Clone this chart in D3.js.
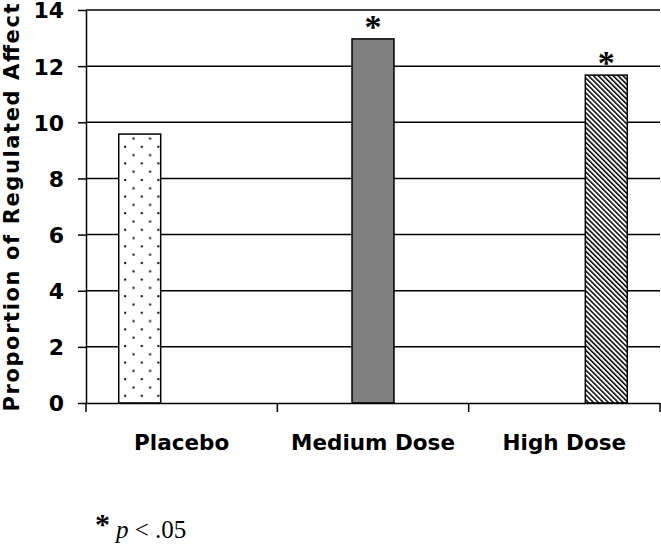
<!DOCTYPE html>
<html>
<head>
<meta charset="utf-8">
<script src="https://cdn.jsdelivr.net/npm/d3@7"></script>
<style>
  body { margin: 0; background: white; }
  text { font-family: "DejaVu Sans", Verdana, sans-serif; font-weight: bold; }
</style>
</head>
<body>
<svg id="chart" width="661" height="544"></svg>
<script>

// data
let categories = ["Placebo", "Medium Dose", "High Dose"];
let values = [9.58, 12.97, 11.68];
let significant = [false, true, true];
let fills = ["url(#dots)", "#808080", "url(#hatch)"];
let yTicks = [0, 2, 4, 6, 8, 10, 12, 14];

function makeChart(id) {

    let width = 661;
    let height = 544;
    let margins = {top: 10, right: 1, bottom: 141, left: 86};
    let innerWidth = width - margins.left - margins.right;
    let innerHeight = height - margins.top - margins.bottom;

    let chart = d3.select("#" + id);

    // fill patterns
    let defs = chart.append("defs");
    let dots = defs.append("pattern").attr("id", "dots")
        .attr("patternUnits", "userSpaceOnUse")
        .attr("width", 16.6).attr("height", 16.6);
    dots.append("rect").attr("width", 16.6).attr("height", 16.6).style("fill", "white");
    dots.append("rect").attr("x", 5).attr("y", 3).attr("width", 2).attr("height", 2).style("fill", "black");
    dots.append("rect").attr("x", 13.3).attr("y", 11.3).attr("width", 2).attr("height", 2).style("fill", "black");

    let hatch = defs.append("pattern").attr("id", "hatch")
        .attr("patternUnits", "userSpaceOnUse")
        .attr("width", 3.5).attr("height", 3.5)
        .attr("patternTransform", "rotate(-45)");
    hatch.append("rect").attr("width", 3.5).attr("height", 3.5).style("fill", "white");
    hatch.append("rect").attr("x", 0).attr("y", 0).attr("width", 1.5).attr("height", 3.5).style("fill", "black");

    let g = chart.append("g")
        .attr("transform", `translate(${margins.left},${margins.top})`);

    let xScale = d3.scaleBand().domain(categories).range([0, innerWidth]).padding(0);
    let xInner = d3.scaleBand().domain(categories).range([0, xScale.bandwidth()])
        .paddingInner(0).paddingOuter(0.78);
    let yScale = d3.scaleLinear().domain([0, 14]).range([innerHeight, 0]);

    // gridlines
    g.append("g").selectAll("line").data(yTicks.filter(d => d > 0)).enter().append("line")
        .attr("x1", 0).attr("x2", innerWidth)
        .attr("y1", d => yScale(d)).attr("y2", d => yScale(d))
        .style("stroke", "black").style("stroke-width", 1.5);

    // y axis
    let yAxis = g.append("g")
        .call(d3.axisLeft(yScale).tickValues(yTicks).tickSize(8).tickPadding(14).tickSizeOuter(0));
    yAxis.select(".domain").style("stroke-width", 1.5);
    yAxis.selectAll(".tick line").style("stroke-width", 1.5);
    yAxis.selectAll("text").style("font-size", "22px").style("font-family", "DejaVu Sans")
        .style("font-weight", "bold").attr("dy", "0.36em");

    // bars
    g.selectAll(".bar").data(values).enter().append("rect").attr("class", "bar")
        .attr("x", (d, i) => xScale(categories[i]) + xInner(categories[i]))
        .attr("y", d => yScale(d))
        .attr("width", xInner.bandwidth())
        .attr("height", d => innerHeight - yScale(d))
        .style("fill", (d, i) => fills[i])
        .style("stroke", "black").style("stroke-width", 1.5);

    // significance stars
    g.selectAll(".star").data(values).enter().filter((d, i) => significant[i])
        .append("text").attr("class", "star")
        .attr("x", (d, i) => {
            let k = values.indexOf(d);
            return xScale(categories[k]) + xInner(categories[k]) + xInner.bandwidth() / 2;
        })
        .attr("y", d => yScale(d) - 1)
        .attr("text-anchor", "middle")
        .style("font-family", "Liberation Serif")
        .style("font-size", "34px")
        .text("*");

    // x axis
    let xAxis = g.append("g")
        .attr("transform", `translate(0,${innerHeight})`)
        .call(d3.axisBottom(xScale).tickSize(0).tickPadding(32).tickSizeOuter(0));
    xAxis.select(".domain").style("stroke-width", 1.5);
    xAxis.selectAll("text").style("font-size", "21.5px").style("font-family", "DejaVu Sans")
        .style("font-weight", "bold");
    // category separators
    xAxis.selectAll(".sep").data(categories.concat([null])).enter().append("line")
        .attr("x1", (d, i) => i * xScale.step()).attr("x2", (d, i) => i * xScale.step())
        .attr("y1", 0).attr("y2", 9)
        .style("stroke", "black").style("stroke-width", 1.5);

    // y title
    chart.append("text")
        .attr("transform", `translate(19,${margins.top + innerHeight / 2 + 1}) rotate(-90)`)
        .attr("text-anchor", "middle")
        .attr("textLength", 408).attr("lengthAdjust", "spacing")
        .style("font-size", "21px")
        .text("Proportion of Regulated Affect");

    // footnote
    let note = chart.append("text").attr("x", 95).attr("y", 538)
        .style("font-family", "Liberation Serif").style("font-weight", "normal");
    note.append("tspan").style("font-size", "30px").style("font-weight", "bold").attr("dy", "-4").text("*");
    note.append("tspan").style("font-size", "25px").style("font-style", "italic").attr("dx", "6").attr("dy", "4").text("p");
    note.append("tspan").style("font-size", "25px").text(" < .05");
}

makeChart("chart");
</script>
</body>
</html>
